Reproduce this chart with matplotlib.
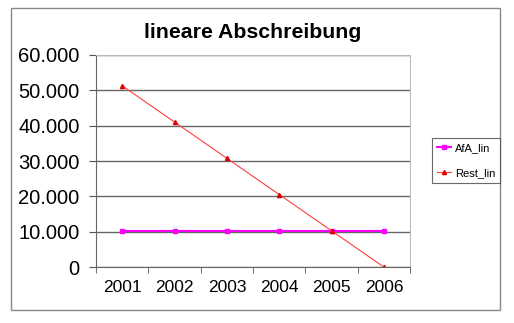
import matplotlib.pyplot as plt
import numpy as np
from matplotlib.patches import Rectangle

plt.rcParams['font.family'] = ['Liberation Sans', 'DejaVu Sans']

years = ["2001", "2002", "2003", "2004", "2005", "2006"]
afa_lin = [10250, 10250, 10250, 10250, 10250, 10250]
rest_lin = [51250, 41000, 30750, 20500, 10250, 0]
yticks = [0, 10000, 20000, 30000, 40000, 50000, 60000]
ytick_labels = ["0", "10.000", "20.000", "30.000", "40.000", "50.000", "60.000"]

fig = plt.figure(figsize=(5.14, 3.23), dpi=100)
ax = fig.add_axes([0.187, 0.173, 0.611, 0.657])

# outer chart frame
fig.patches.append(Rectangle((11 / 514, 1 - 310 / 323), 489 / 514, 302 / 323,
                             transform=fig.transFigure, fill=False,
                             edgecolor='#888888', linewidth=1))

x = np.arange(len(years))
ax.plot(x, afa_lin, color='#ff00ff', marker='s', markersize=3, linewidth=1.5, label='AfA_lin')
ax.plot(x, rest_lin, color='#ff4040', marker='^', markersize=3, linewidth=0.8,
        markerfacecolor='#dd0000', markeredgecolor='#dd0000', label='Rest_lin')

ax.set_xlim(-0.5, len(years) - 0.5)
ax.set_ylim(0, 60000)
ax.set_yticks(yticks)
ax.set_yticklabels(ytick_labels, fontsize=14.5)
ax.set_xticks(x)
ax.set_xticklabels(years, fontsize=12.5)
ax.set_xticks(np.arange(-0.5, len(years)), minor=True)
ax.tick_params(axis='x', which='major', length=0, pad=9)
ax.tick_params(axis='x', which='minor', length=4, color='#555555')
ax.tick_params(axis='y', length=5, color='#555555', pad=7)
ax.yaxis.grid(True, color='#666666', linewidth=1)
ax.set_axisbelow(True)
for side in ['top', 'right']:
    ax.spines[side].set_color('#bbbbbb')
for side in ['left', 'bottom']:
    ax.spines[side].set_color('#666666')

ax.set_title("lineare Abschreibung", fontsize=15.3, fontweight='bold', pad=12)

leg = fig.legend(loc='center left', bbox_to_anchor=(432 / 514, 1 - 160.5 / 323),
                 fontsize=8, frameon=True, fancybox=False, handlelength=1.3,
                 borderpad=0.45, labelspacing=1.3, handletextpad=0.3,
                 borderaxespad=0)
leg.get_frame().set_edgecolor('#444444')
leg.get_frame().set_linewidth(0.8)

fig.savefig("out.png", dpi=100)
